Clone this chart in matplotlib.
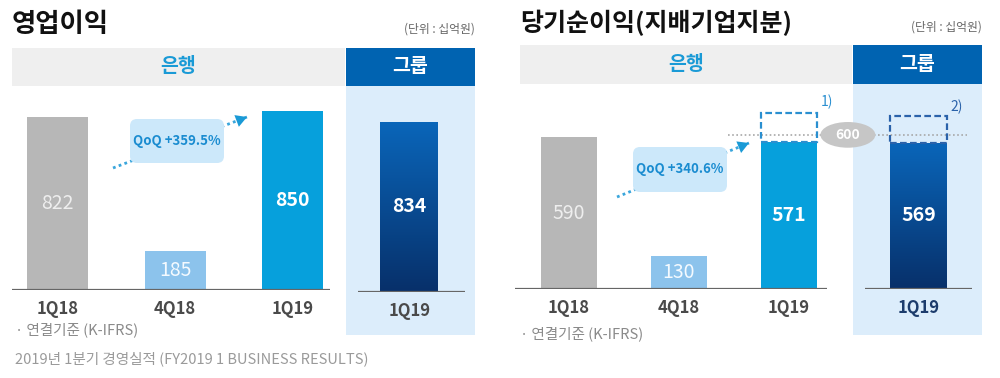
import matplotlib
matplotlib.use('Agg')
import matplotlib.pyplot as plt
import numpy as np
from matplotlib.patches import Rectangle, FancyBboxPatch, Ellipse

plt.rcParams['font.family'] = ['Noto Sans CJK KR', 'DejaVu Sans']

# ---- data ----
quarters = ['1Q18', '4Q18', '1Q19']
group_quarter = ['1Q19']

op_bank = [822, 185, 850]
op_group = [834]
op_qoq = 'QoQ +359.5%'

ni_bank = [590, 130, 571]
ni_group = [569]
ni_qoq = 'QoQ +340.6%'
ni_ref = 600
ni_bank_adj = 685    # dashed box top, note 1)
ni_group_adj = 673   # dashed box top, note 2)

W, H = 1000, 378
GRAY_BAR = '#b7b7b7'
LIGHT_BAR = '#8cc3ec'
BANK_BAR = '#06a0dc'
BANK_TXT = '#1a9ad6'
GROUP_HDR = '#0063b1'
PANEL = '#dcedfb'
BUBBLE = '#cce8fa'
DARK = '#4a4a4a'

fig = plt.figure(figsize=(10, 3.78), dpi=100)

# background axes in pixel coordinates
bg = fig.add_axes([0, 0, 1, 1])
bg.set_xlim(0, W)
bg.set_ylim(H, 0)
bg.axis('off')


def px_axes(x0, x1, ytop, ybase):
    return fig.add_axes([x0 / W, (H - ybase) / H, (x1 - x0) / W, (ybase - ytop) / H])


def style_axes(ax, color, size=12):
    ax.patch.set_alpha(0)
    for s in ax.spines.values():
        s.set_visible(False)
    ax.set_yticks([])
    ax.tick_params(axis='x', length=0, pad=7, labelsize=size, labelcolor=color)
    for t in ax.get_xticklabels():
        t.set_fontweight('bold')


def gradient_bar(ax, bar, top='#0a66ba', bottom='#07306a'):
    x, y = bar.get_x(), bar.get_y()
    w, h = bar.get_width(), bar.get_height()
    grad = np.linspace(1, 0, 256).reshape(-1, 1)
    cmap = matplotlib.colors.LinearSegmentedColormap.from_list('g', [bottom, top])
    im = ax.imshow(grad, extent=[x, x + w, y, y + h], aspect='auto', cmap=cmap,
                   origin='upper', zorder=bar.get_zorder())
    im.set_clip_path(bar)
    bar.set_facecolor('none')


def panel(xl, xr, xg, ytitle, yhdr0, yhdr1, title, units_x, tsize):
    bg.text(xl, ytitle, title, fontsize=tsize, fontweight='bold', color='#111111',
            va='center', ha='left')
    bg.text(units_x, ytitle + 4, '(단위 : 십억원)', fontsize=8.5, color='#666666',
            va='center', ha='right')
    bg.add_patch(Rectangle((xl, yhdr0), xg - xl, yhdr1 - yhdr0, color='#efefef', lw=0))
    bg.add_patch(Rectangle((xg + 1, yhdr0), units_x - xg - 1, yhdr1 - yhdr0, color=GROUP_HDR, lw=0))
    bg.add_patch(Rectangle((xg + 1, yhdr1), units_x - xg - 1, 335 - yhdr1, color=PANEL, lw=0))
    bg.text((xl + xg) / 2, (yhdr0 + yhdr1) / 2, '은행', fontsize=14, fontweight='bold',
            color=BANK_TXT, ha='center', va='center')
    bg.text((xg + units_x) / 2, (yhdr0 + yhdr1) / 2, '그룹', fontsize=14, fontweight='bold',
            color='white', ha='center', va='center')


def qoq_bubble(x0, y0, x1, y1, text, a0, a1):
    bg.plot([a0[0], a1[0]], [a0[1], a1[1]], ls=(0, (1, 1.2)), lw=2, color='#3aa6dc', zorder=1)
    d = np.array(a1) - np.array(a0)
    d = d / np.hypot(*d)
    bg.annotate('', xy=a1, xytext=(a1[0] - d[0] * 3, a1[1] - d[1] * 3),
                arrowprops=dict(arrowstyle='-|>,head_length=0.8,head_width=0.45',
                                color='#1a9ad6', lw=0), zorder=3)
    bg.add_patch(FancyBboxPatch((x0, y0), x1 - x0, y1 - y0,
                                boxstyle='round,pad=0,rounding_size=7',
                                fc=BUBBLE, ec='none', zorder=2))
    bg.text((x0 + x1) / 2, (y0 + y1) / 2, text, fontsize=9.5, fontweight='bold',
            color='#1a8cd0', ha='center', va='center', zorder=4)


# ---------------- left: 영업이익 ----------------
panel(12, 345, 345, 25, 48, 86, '영업이익', 475, 19)
qoq_bubble(130, 119, 224, 163, op_qoq, (113, 168), (247, 117))

xs = np.arange(len(quarters))
ax1 = px_axes(12, 330, 86, 290)
bars1 = ax1.bar(xs, op_bank, width=0.52, color=[GRAY_BAR, LIGHT_BAR, BANK_BAR], zorder=2)
ax1.set_xlim(-0.39, 2.32)
ax1.set_ylim(0, 968)
ax1.axhline(0, color='#666666', lw=1.6, zorder=3)
ax1.set_xticks(xs, quarters)
style_axes(ax1, DARK)
lab_col = ['#eeeeee', '#f4faff', 'white']
lab_wt = ['normal', 'normal', 'bold']
for b, v, c, fw in zip(bars1, op_bank, lab_col, lab_wt):
    ax1.text(b.get_x() + b.get_width() / 2, v / 2, str(v), ha='center', va='center',
             fontsize=14, color=c, fontweight=fw, zorder=4)

ax2 = px_axes(358, 465, 86, 292)
bars2 = ax2.bar([0], op_group, width=0.54, color='#0a5aa8', zorder=2)
ax2.set_xlim(-0.48, 0.52)
ax2.set_ylim(0, 1008)
ax2.axhline(0, color='#666666', lw=1.6, zorder=3)
ax2.set_xticks([0], group_quarter)
style_axes(ax2, DARK)
gradient_bar(ax2, bars2[0])
ax2.text(0, op_group[0] / 2, str(op_group[0]), ha='center', va='center',
         fontsize=14, color='white', fontweight='bold', zorder=4)

bg.text(15, 330, '· 연결기준 (K-IFRS)', fontsize=10.5, color='#8a8a8a', va='center')
bg.text(15, 359, '2019년 1분기 경영실적 (FY2019 1 BUSINESS RESULTS)', fontsize=10.5,
        color='#9a9a9a', va='center')

# ---------------- right: 당기순이익 ----------------
panel(520, 852, 852, 23, 45, 84, '당기순이익(지배기업지분)', 982, 18)
qoq_bubble(633, 147, 727, 192, ni_qoq, (617, 197), (749, 143))

ax3 = px_axes(515, 827, 84, 289)
bars3 = ax3.bar(xs, ni_bank, width=0.51, color=[GRAY_BAR, LIGHT_BAR, BANK_BAR], zorder=2)
ax3.set_xlim(-0.49, 2.35)
ax3.set_ylim(0, 798)
ax3.axhline(0, color='#666666', lw=1.6, zorder=3)
ax3.set_xticks(xs, quarters)
style_axes(ax3, DARK)
for b, v, c, fw in zip(bars3, ni_bank, lab_col, lab_wt):
    ax3.text(b.get_x() + b.get_width() / 2, v / 2, str(v), ha='center', va='center',
             fontsize=14, color=c, fontweight=fw, zorder=4)

# 600 reference line and dashed target box
ax3.plot([1.45, 3.62], [ni_ref, ni_ref], ls=(0, (1, 1.5)), color='#a8a8a8', lw=1.2,
         clip_on=False, zorder=1)
b = bars3[2]
ax3.add_patch(Rectangle((b.get_x(), ni_bank[2]), b.get_width(), ni_bank_adj - ni_bank[2],
                        fill=False, ec='#2a8fd0', lw=1.6, ls=(0, (3, 1.5)), zorder=3))
ax3.text(b.get_x() + b.get_width() + 0.04, ni_bank_adj + 15, '1)', color='#2a8fd0',
         fontsize=10, ha='left', va='bottom')
ax3.add_patch(Ellipse((2.54, ni_ref), 0.5, 100, fc='#c6c6c6', ec='none', clip_on=False, zorder=4))
ax3.text(2.54, ni_ref, str(ni_ref), ha='center', va='center', fontsize=10,
         color='white', fontweight='bold', zorder=5)

ax4 = px_axes(865, 972, 84, 289)
bars4 = ax4.bar([0], ni_group, width=0.53, color='#0a5aa8', zorder=2)
ax4.set_xlim(-0.5, 0.5)
ax4.set_ylim(0, 798)
ax4.axhline(0, color='#666666', lw=1.6, zorder=3)
ax4.set_xticks([0], group_quarter)
style_axes(ax4, '#1c3c6c')
gradient_bar(ax4, bars4[0])
g = bars4[0]
ax4.add_patch(Rectangle((g.get_x(), ni_group[0]), g.get_width(), ni_group_adj - ni_group[0],
                        fill=False, ec='#2a62aa', lw=1.6, ls=(0, (3, 1.5)), zorder=3))
ax4.text(g.get_x() + g.get_width() + 0.03, ni_group_adj + 8, '2)', color='#2a62aa',
         fontsize=10, ha='left', va='bottom')
ax4.text(0, ni_group[0] / 2, str(ni_group[0]), ha='center', va='center',
         fontsize=14, color='white', fontweight='bold', zorder=4)

bg.text(520, 334, '· 연결기준 (K-IFRS)', fontsize=10.5, color='#8a8a8a', va='center')

fig.savefig('out.png', dpi=100)
